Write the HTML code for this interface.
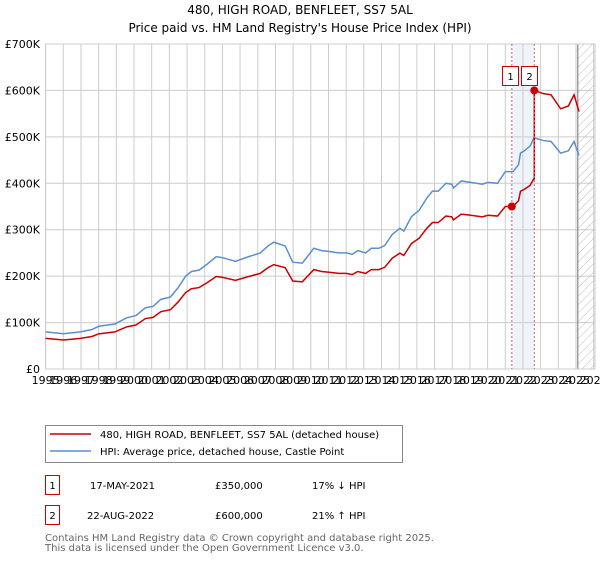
<!DOCTYPE html>
<html><head><meta charset="utf-8"><style>
body{margin:0;background:#fff;font-family:"DejaVu Sans","Liberation Sans",sans-serif;}
svg text{font-family:"DejaVu Sans","Liberation Sans",sans-serif;}
</style></head><body>
<svg id="chart" width="600" height="560" viewBox="0 0 600 560" xmlns="http://www.w3.org/2000/svg">
<defs><pattern id="hatch" width="6" height="6" patternUnits="userSpaceOnUse" patternTransform="rotate(45)"><line x1="0" y1="0" x2="0" y2="6" stroke="#bbb" stroke-width="1"/></pattern></defs>
<text x="300" y="14" text-anchor="middle" font-size="12">480, HIGH ROAD, BENFLEET, SS7 5AL</text>
<text x="300" y="32" text-anchor="middle" font-size="12">Price paid vs. HM Land Registry's House Price Index (HPI)</text>
<g id="grid"></g><g id="marks"></g>
<g>
<rect x="45.5" y="425.5" width="357" height="37" fill="#fff" stroke="#888"/>
<line x1="50" y1="434" x2="91" y2="434" stroke="#cc0000" stroke-width="1.5"/>
<text x="100" y="438" font-size="10">480, HIGH ROAD, BENFLEET, SS7 5AL (detached house)</text>
<line x1="50" y1="451" x2="91" y2="451" stroke="#5b8fd0" stroke-width="1.5"/>
<text x="100" y="455" font-size="10">HPI: Average price, detached house, Castle Point</text>
</g>
<g font-size="10">
<rect x="45.5" y="475.5" width="14" height="19" fill="#fff" stroke="#cc0000"/><text x="52.5" y="489" text-anchor="middle">1</text>
<text x="90" y="489">17-MAY-2021</text><text x="215" y="489">£350,000</text><text x="312" y="489">17% ↓ HPI</text>
<rect x="45.5" y="505.5" width="14" height="19" fill="#fff" stroke="#cc0000"/><text x="52.5" y="519" text-anchor="middle">2</text>
<text x="87" y="519">22-AUG-2022</text><text x="215" y="519">£600,000</text><text x="312" y="519">21% ↑ HPI</text>
</g>
<text x="45" y="541" font-size="10" fill="#666">Contains HM Land Registry data © Crown copyright and database right 2025.</text>
<text x="45" y="551" font-size="10" fill="#666">This data is licensed under the Open Government Licence v3.0.</text>
</svg>
<script>
const hpiYears=[1995.0,1996.02,1996.97,1997.62,1998.01,1998.92,1999.57,2000.11,2000.65,2001.08,2001.52,2002.06,2002.49,2002.92,2003.25,2003.68,2004.11,2004.65,2004.98,2005.74,2006.49,2007.14,2007.58,2007.9,2008.55,2008.98,2009.52,2010.17,2010.61,2011.04,2011.58,2012.01,2012.34,2012.66,2013.1,2013.42,2013.85,2014.18,2014.61,2015.04,2015.26,2015.69,2016.13,2016.56,2016.88,2017.21,2017.64,2017.97,2018.07,2018.51,2019.05,2019.7,2020.02,2020.56,2021.0,2021.43,2021.75,2021.86,2022.08,2022.4,2022.62,2023.16,2023.59,2024.13,2024.57,2024.89,2025.17];
const hpiValues=[80,76,80,85,92,97,110,115,132,135,150,155,175,200,210,213,225,242,240,232,242,250,265,273,265,230,228,260,255,253,250,250,247,255,250,260,260,266,290,303,297,328,342,368,383,383,400,398,390,405,402,398,402,400,425,425,440,465,470,480,498,492,490,465,470,490,460];
const saleYears=[2021.37,2022.64];
const salePrices=[350,600];
const yTicks=[0,100,200,300,400,500,600,700];
const yTickLabels=["£0","£100K","£200K","£300K","£400K","£500K","£600K","£700K"];
const xTicks=[1995,1996,1997,1998,1999,2000,2001,2002,2003,2004,2005,2006,2007,2008,2009,2010,2011,2012,2013,2014,2015,2016,2017,2018,2019,2020,2021,2022,2023,2024,2025,2026];
const forecastStart=2025.1;
const NS="http://www.w3.org/2000/svg";
const X0=45.6,PX=17.68,Y0=369,PY=325/700,RIGHT=595;
const xs=y=>X0+(y-1995)*PX, ys=v=>Y0-v*PY;
const grid=document.getElementById('grid'),marks=document.getElementById('marks');
function mk(tag,attrs,parent){const e=document.createElementNS(NS,tag);for(const k in attrs)e.setAttribute(k,attrs[k]);parent.appendChild(e);return e;}
let sh=mk('rect',{x:xs(saleYears[0]),y:44,width:xs(saleYears[1])-xs(saleYears[0]),height:Y0-44,fill:'#eef3fc'},grid);


yTicks.forEach((t,i)=>{
 let l=mk('line',{x1:X0,x2:RIGHT,y1:ys(t),y2:ys(t),stroke:'#ccc'},grid);
 
 
 let tx=mk('text',{x:40,y:ys(t)+4,'text-anchor':'end','font-size':11},grid);tx.textContent=yTickLabels[i];
 
 
});
xTicks.forEach(t=>{
 let l=mk('line',{x1:xs(t),x2:xs(t),y1:44,y2:Y0,stroke:'#ccc'},grid);
 
 
 let tx=mk('text',{x:xs(t),y:384,'text-anchor':'middle','font-size':11},grid);tx.textContent=t;
 
 
});
let hr=mk('rect',{x:xs(forecastStart),y:44,width:RIGHT-xs(forecastStart),height:Y0-44,fill:'url(#hatch)'},grid);


let fl=mk('line',{x1:xs(forecastStart),x2:xs(forecastStart),y1:44,y2:Y0,stroke:'#888','stroke-width':1.2},grid);


mk('rect',{x:X0,y:44,width:RIGHT-X0,height:Y0-44,fill:'none',stroke:'#ccc'},grid);
function hpiAt(y){for(let i=1;i<hpiYears.length;i++){if(hpiYears[i]>=y){const t=(y-hpiYears[i-1])/(hpiYears[i]-hpiYears[i-1]);return hpiValues[i-1]+t*(hpiValues[i]-hpiValues[i-1]);}}return hpiValues[hpiValues.length-1];}
let hp=mk('polyline',{points:hpiYears.map((y,i)=>xs(y)+','+ys(hpiValues[i])).join(' '),fill:'none',stroke:'#5b8fd0','stroke-width':1.5},marks);


const r0=salePrices[0]/hpiAt(saleYears[0]),r1=salePrices[1]/hpiAt(saleYears[1]);
let pts=[];
hpiYears.forEach((y,i)=>{if(y<saleYears[1])pts.push([y,hpiValues[i]*r0]);});
pts.push([saleYears[1],hpiAt(saleYears[1])*r0]);pts.push([saleYears[1],salePrices[1]]);
hpiYears.forEach((y,i)=>{if(y>saleYears[1])pts.push([y,hpiValues[i]*r1]);});
let pl=mk('polyline',{points:pts.map(p=>xs(p[0])+','+ys(p[1])).join(' '),fill:'none',stroke:'#cc0000','stroke-width':1.5},marks);


const badgeOffsets=[-10,-13];
saleYears.forEach((y,i)=>{
 let l=mk('line',{x1:xs(y),x2:xs(y),y1:44,y2:Y0,stroke:'#e06060','stroke-dasharray':'2,2'},marks);
 
 
 let c=mk('circle',{cx:xs(y),cy:ys(salePrices[i]),r:4,fill:'#cc0000'},marks);
 
 
 let bx=Math.round(xs(y)+badgeOffsets[i])+0.5;
 let b=mk('rect',{x:bx,y:66.5,width:16,height:19,fill:'#fff',stroke:'#cc0000'},marks);
 
 
 let t=mk('text',{x:bx+8,y:80,'text-anchor':'middle','font-size':10},marks);t.textContent=String(i+1);
 
 
});
</script>
</body></html>
